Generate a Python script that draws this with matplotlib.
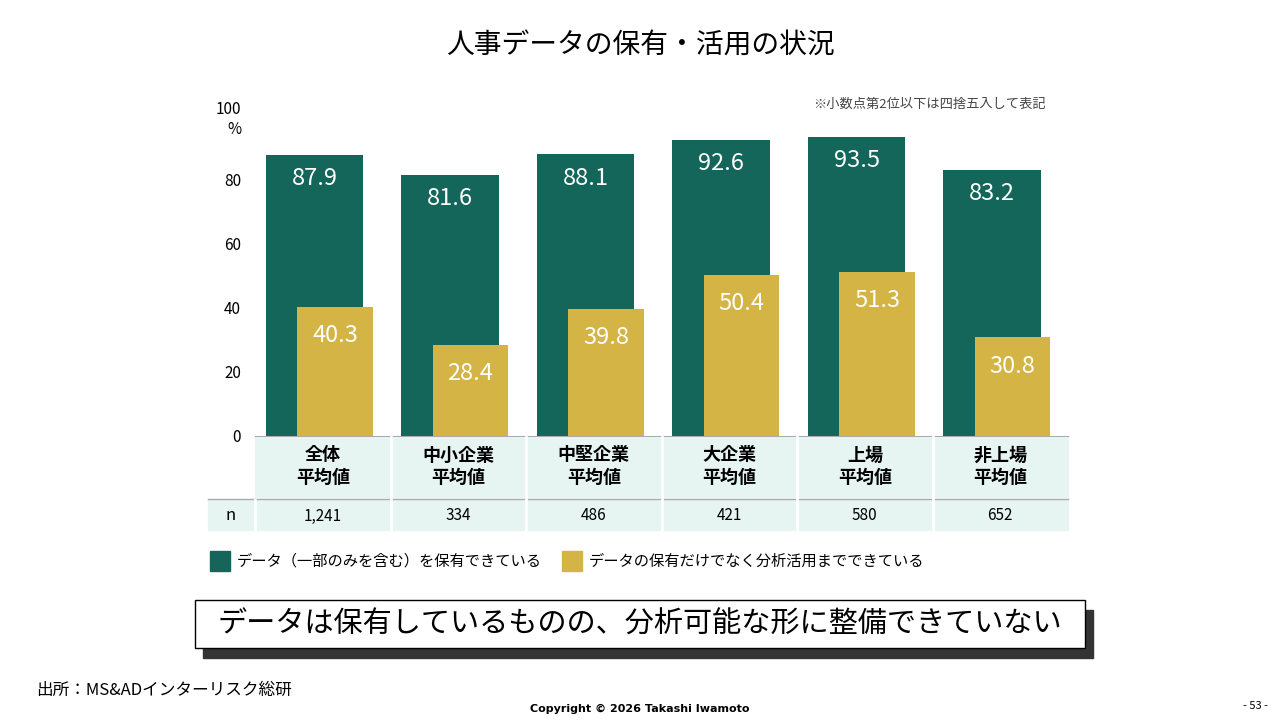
import matplotlib.pyplot as plt
from matplotlib.patches import Rectangle
import numpy as np

plt.rcParams['font.family'] = ['Noto Sans CJK JP', 'DejaVu Sans']

categories = ["全体\n平均値", "中小企業\n平均値", "中堅企業\n平均値", "大企業\n平均値", "上場\n平均値", "非上場\n平均値"]
n_values = ["1,241", "334", "486", "421", "580", "652"]
held = [87.9, 81.6, 88.1, 92.6, 93.5, 83.2]
used = [40.3, 28.4, 39.8, 50.4, 51.3, 30.8]

green = "#14665A"
yellow = "#D4B445"
mint = "#E6F5F2"

W, H = 1280, 720
fig = plt.figure(figsize=(12.8, 7.2), dpi=100)

def fx(px):
    return px / W

def fy(py):
    return 1 - py / H

ax = fig.add_axes([fx(255), fy(436), fx(1068) - fx(255), fy(116) - fy(436)])
x = np.arange(len(categories))
ax.bar(x - 0.42, held, width=0.72, align='edge', color=green, zorder=2)
ax.bar(x - 0.19, used, width=0.56, align='edge', color=yellow, zorder=3)
for i in range(len(x)):
    ax.text(x[i] - 0.06, held[i] - 7.5, f"{held[i]:.1f}", color='white', fontsize=17,
            ha='center', va='center', zorder=4)
    ax.text(x[i] + 0.09, used[i] - 9, f"{used[i]:.1f}", color='white', fontsize=17,
            ha='center', va='center', zorder=4)
ax.set_xlim(-0.5, 5.5)
ax.set_ylim(0, 100)
ax.set_yticks([0, 20, 40, 60, 80, 100])
ax.set_yticklabels(["0", "20", "40", "60", "80", "100\n%"], fontsize=11)
ax.set_xticks([])
for s in ['top', 'right', 'left']:
    ax.spines[s].set_visible(False)
ax.spines['bottom'].set_color('#999999')
ax.tick_params(axis='y', length=0, pad=10)

# table below the axis
fig.patches.append(Rectangle((fx(255), fy(497)), fx(1068) - fx(255), fy(437) - fy(497),
                             transform=fig.transFigure, color=mint, zorder=0))
fig.patches.append(Rectangle((fx(208), fy(530)), fx(1068) - fx(208), fy(500) - fy(530),
                             transform=fig.transFigure, color=mint, zorder=0))
fig.add_artist(plt.Line2D([fx(208), fx(1068)], [fy(498.5), fy(498.5)], color='#aaaaaa', lw=1))
for i in range(1, 6):
    xp = 255 + i * (1068 - 255) / 6
    fig.add_artist(plt.Line2D([fx(xp), fx(xp)], [fy(530), fy(437)], color='white', lw=2))
fig.add_artist(plt.Line2D([fx(255), fx(255)], [fy(530), fy(500)], color='white', lw=2))
for i in range(6):
    xc = 255 + (i + 0.5) * (1068 - 255) / 6
    fig.text(fx(xc), fy(466), categories[i], ha='center', va='center', fontsize=13,
             fontweight='bold', linespacing=1.2)
    fig.text(fx(xc), fy(516), n_values[i], ha='center', va='center', fontsize=11)
fig.text(fx(231), fy(516), "n", ha='center', va='center', fontsize=12)

# legend
fig.patches.append(Rectangle((fx(210), fy(571)), fx(20), fy(551) - fy(571),
                             transform=fig.transFigure, color=green))
fig.text(fx(237), fy(561), "データ（一部のみを含む）を保有できている", va='center', fontsize=11)
fig.patches.append(Rectangle((fx(562), fy(571)), fx(20), fy(551) - fy(571),
                             transform=fig.transFigure, color=yellow))
fig.text(fx(589), fy(561), "データの保有だけでなく分析活用までできている", va='center', fontsize=11)

fig.text(fx(1046), fy(104), "※小数点第2位以下は四捨五入して表記", ha='right', va='center',
         fontsize=9.5, color='#444444')

fig.text(0.5, fy(46), "人事データの保有・活用の状況", ha='center', va='center', fontsize=20)

# callout box with shadow
fig.patches.append(Rectangle((fx(203), fy(658)), fx(890), fy(600) - fy(648),
                             transform=fig.transFigure, color='#333333'))
fig.patches.append(Rectangle((fx(195), fy(648)), fx(890), fy(600) - fy(648),
                             transform=fig.transFigure, facecolor='white', edgecolor='black', lw=1))
fig.text(fx(640), fy(625), "データは保有しているものの、分析可能な形に整備できていない",
         ha='center', va='center', fontsize=21)

fig.text(fx(36), fy(690), "出所：MS&ADインターリスク総研", va='center', fontsize=12)
fig.text(0.5, fy(709), "Copyright © 2026 Takashi Iwamoto", ha='center', va='center',
         fontsize=8, fontweight='bold', family='DejaVu Sans')
fig.text(fx(1268), fy(706), "- 53 -", ha='right', va='center', fontsize=8)

fig.savefig("out.png", dpi=100)
